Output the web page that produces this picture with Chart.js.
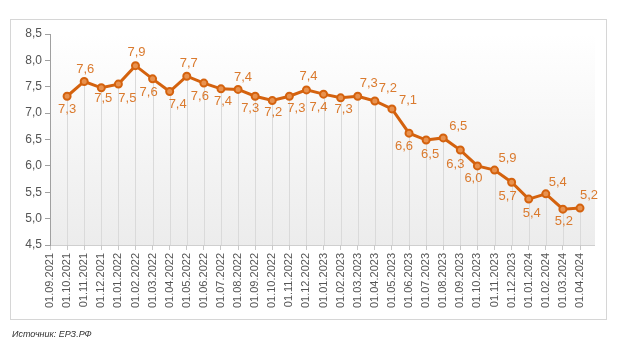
<!DOCTYPE html>
<html>
<head>
<meta charset="utf-8">
<script src="https://cdn.jsdelivr.net/npm/chart.js@4.4.1/dist/chart.umd.min.js"></script>
<style>
body{margin:0;background:#fff;}
#wrap{position:relative;width:617px;height:351px;}
#frame{position:absolute;left:10px;top:19px;width:595px;height:299px;border:1px solid #d6d6d6;}
canvas{position:absolute;left:0;top:0;}
#src{position:absolute;left:12px;top:329px;font:italic 9px "Liberation Sans", Arial, sans-serif;color:#333;}
</style>
</head>
<body>
<div id="wrap">
  <div id="frame"></div>
  <canvas id="chart1" width="617" height="351"></canvas>
  <div id="src">Источник: ЕРЗ.РФ</div>
</div>
<script>
// months
var labels = ['01.09.2021','01.10.2021','01.11.2021','01.12.2021',
  '01.01.2022','01.02.2022','01.03.2022','01.04.2022','01.05.2022','01.06.2022',
  '01.07.2022','01.08.2022','01.09.2022','01.10.2022','01.11.2022','01.12.2022',
  '01.01.2023','01.02.2023','01.03.2023','01.04.2023','01.05.2023','01.06.2023',
  '01.07.2023','01.08.2023','01.09.2023','01.10.2023','01.11.2023','01.12.2023',
  '01.01.2024','01.02.2024','01.03.2024','01.04.2024']

var values = [null, 7.32, 7.6, 7.48, 7.55, 7.9, 7.65, 7.41, 7.7, 7.57, 7.46,
  7.45, 7.32, 7.24, 7.32, 7.44, 7.36, 7.29, 7.32, 7.23, 7.08,
  6.62, 6.49, 6.53, 6.3, 6.0, 5.92, 5.69, 5.37, 5.47, 5.18, 5.2]

// printed labels (rounded)
var valueLabels = [null, 7.3, 7.6, 7.5, 7.5, 7.9, 7.6, 7.4, 7.7, 7.6, 7.4,
  7.4, 7.3, 7.2, 7.3, 7.4, 7.4, 7.3, 7.3, 7.2, 7.1,
  6.6, 6.5, 6.5, 6.3, 6.0, 5.9, 5.7, 5.4, 5.4, 5.2, 5.2]

// label offsets from point [dx, dy]
var labelOffsets = [null, [0,13],[1,-12],[2,11],[9,14],[1,-13],[-4,14],[8,13],[2,-13],[-4,13],[2,13],
  [5,-12],[-5,12],[1,12],[7,12],[2,-13],[-5,13],[3,12],[11,-13],[13,-13],[16,-8],
  [-5,13],[4,14],[15,-11],[-5,14],[-4,13],[13,-12],[-4,14],[3,14],[12,-11],[1,12],[9,-13]]

var lineColor = '#d4620e'
var fmt = v => v.toFixed(1).replace('.', ',')

var extraRight = 15

var chartDecor = {
  id: 'chartDecor',
  beforeDraw(chart){
    const a = chart.chartArea, c = chart.ctx
    const g = c.createLinearGradient(0, a.top, 0, a.bottom)
    g.addColorStop(0, 'rgba(255,255,255,1)')
    g.addColorStop(1, '#ececec')
    c.save()
    c.fillStyle = g
    c.fillRect(a.left, a.top, a.right - a.left + extraRight, a.bottom - a.top)
    c.strokeStyle = '#cfcfcf'
    c.lineWidth = 1
    c.beginPath()
    c.moveTo(a.left, a.bottom + 0.5)
    c.lineTo(a.right + extraRight, a.bottom + 0.5)
    c.stroke()
    c.restore()
  },
  beforeDatasetsDraw(chart){
    const a = chart.chartArea, c = chart.ctx
    const meta = chart.getDatasetMeta(0)
    c.save()
    c.strokeStyle = '#dadada'
    c.lineWidth = 1
    meta.data.forEach((p, i) => {
      if(values[i] == null) return
      const x = Math.round(p.x) + 0.5
      c.beginPath()
      c.moveTo(x, p.y)
      c.lineTo(x, a.bottom)
      c.stroke()
    })
    c.restore()
  },
  afterDatasetsDraw(chart){
    const c = chart.ctx
    const meta = chart.getDatasetMeta(0)
    c.save()
    c.font = '13px "Liberation Sans", Arial, sans-serif'
    c.fillStyle = '#da7a2e'
    c.textAlign = 'center'
    c.textBaseline = 'middle'
    meta.data.forEach((p, i) => {
      if(valueLabels[i] == null) return
      const o = labelOffsets[i]
      c.fillText(fmt(valueLabels[i]), p.x + o[0], p.y + o[1])
    })
    c.restore()
  }
}

const ctx = document.getElementById('chart1').getContext('2d')
const chart1 = new Chart(ctx, {
  type: 'line',
  data: {
    labels: labels,
    datasets: [{
      data: values,
      borderColor: lineColor,
      borderWidth: 3,
      pointRadius: 3.5,
      pointBackgroundColor: '#e8924f',
      pointBorderColor: lineColor,
      pointBorderWidth: 2,
      tension: 0
    }]
  },
  options: {
    responsive: false,
    animation: false,
    layout: { padding: { top: 34, right: 37, bottom: 0, left: 0 } },
    plugins: { legend: { display: false }, tooltip: { enabled: false } },
    scales: {
      x: {
        offset: false,
        border: { display: false },
        grid: { drawOnChartArea: false, drawTicks: true, tickLength: 5, color: '#c8c8c8' },
        ticks: {
          minRotation: 90, maxRotation: 90, autoSkip: false, padding: 3,
          color: '#555', font: { size: 11, family: '"Liberation Sans", Arial, sans-serif' }
        },
        afterFit: s => { s.height = 106 }
      },
      y: {
        min: 4.5, max: 8.5,
        border: { display: true, color: '#a0a0a0' },
        grid: { drawOnChartArea: false, tickLength: 5, color: '#a0a0a0' },
        ticks: {
          stepSize: 0.5, padding: 3, color: '#555',
          font: { size: 12, family: '"Liberation Sans", Arial, sans-serif' },
          callback: v => fmt(v)
        },
        afterFit: s => { s.width = 50 }
      }
    }
  },
  plugins: [chartDecor]
})
</script>
</body>
</html>
